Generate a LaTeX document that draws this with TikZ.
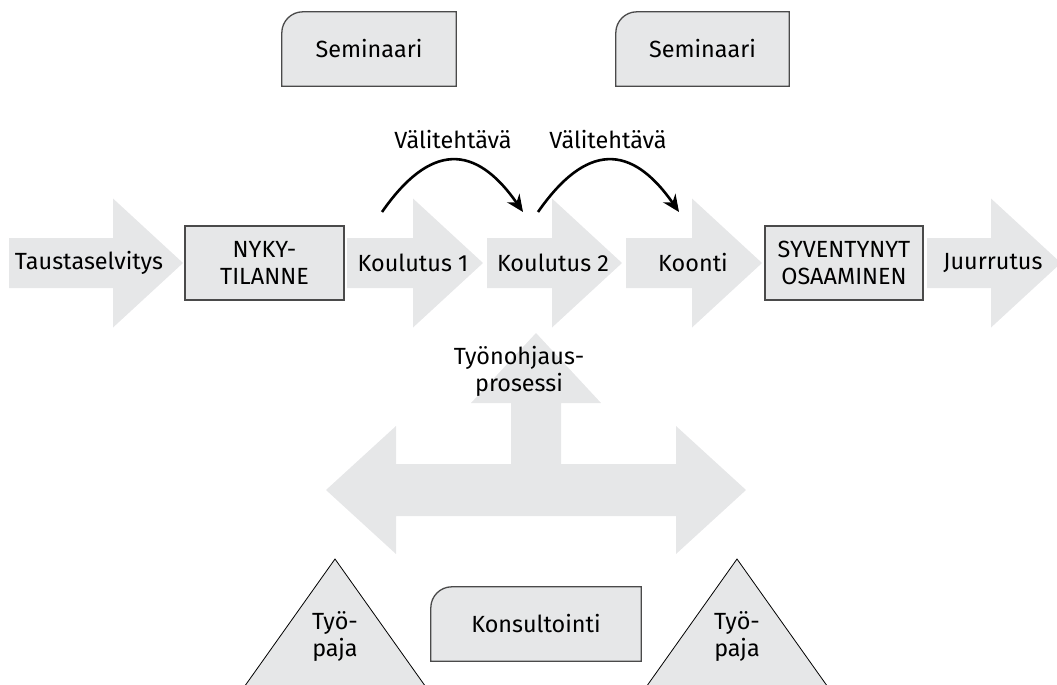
\documentclass[tikz,border=0pt]{standalone}
\usepackage{fontspec}
\setmainfont{Fira Sans}
\usetikzlibrary{arrows.meta,backgrounds}
\definecolor{pale}{HTML}{E6E7E8}
\definecolor{edge}{HTML}{4A4A4A}

% wide grey arrow: start x, tip x, middle y
\newcommand{\fatarrow}[3]{%
  \fill[pale] (#1,#3-25) -- (#2-70,#3-25) -- (#2-70,#3-64.5) -- (#2,#3)
    -- (#2-70,#3+64.5) -- (#2-70,#3+25) -- (#1,#3+25) -- cycle;}
% frame with one round corner round a named node
\newcommand{\tabframe}[1]{%
  \begin{scope}[on background layer]
    \draw[draw=edge,line width=1.3pt,fill=pale] (#1.south east) -- (#1.south west)
      -- ([yshift=-21pt]#1.north west) arc[start angle=180,end angle=90,radius=21pt]
      -- (#1.north east) -- cycle;
  \end{scope}}

\begin{document}
\begin{tikzpicture}[x=1pt,y=-1pt,font=\fontsize{23.4}{27}\selectfont,
  box/.style={draw=edge,line width=1.3pt,fill=pale,minimum height=74pt,align=center,inner sep=0pt},
  tab/.style={minimum height=74pt,inner sep=0pt},
  tri/.style={draw=black,line width=0.8pt,fill=pale},
  arr/.style={-{Stealth[length=17pt,width=15pt]},line width=2.6pt},
  lbl/.style={align=center,inner sep=0pt}]
\useasboundingbox (0,0) rectangle (1057,685);
\clip (0,0) rectangle (1057,685);

% main row
\fatarrow{9}{183}{263}
\fatarrow{347}{483}{263}
\fatarrow{487}{622}{263}
\fatarrow{626}{762}{263}
\fatarrow{927}{1061}{263}

\node (taus) at (89,263) {Taustaselvitys};
\node[box,minimum width=159pt] (nyky) at (264.5,263) {NYKY-\\TILANNE};
\node (kou1) at (413,263) {Koulutus 1};
\node (kou2) at (553,263) {Koulutus 2};
\node (koon) at (693,263) {Koonti};
\node[box,minimum width=158pt] (syv) at (844,263) {SYVENTYNYT\\OSAAMINEN};
\node (juur) at (993,263) {Juurrutus};

% seminars
\node[tab,minimum width=174pt] (sem1) at (369,49) {Seminaari};
\node[tab,minimum width=173pt] (sem2) at (702.5,49) {Seminaari};
\tabframe{sem1}
\tabframe{sem2}

% tasks between trainings
\node (vt1) at (453,140) {Välitehtävä};
\node (vt2) at (608,140) {Välitehtävä};
\coordinate (v1a) at (382,212);
\coordinate (v1b) at (523,212);
\coordinate (v2a) at (538,212);
\coordinate (v2b) at (679,212);
\draw[arr] (v1a) .. controls +(48,-69) and +(-48,-69) .. (v1b);
\draw[arr] (v2a) .. controls +(48,-69) and +(-48,-69) .. (v2b);

% supervision
\fill[pale] (326,490) -- (396,426) -- (396,464) -- (511,464) -- (511,403)
  -- (471,403) -- (536,333) -- (601,403) -- (561,403) -- (561,464)
  -- (676,464) -- (676,426) -- (746,490) -- (676,554) -- (676,516)
  -- (396,516) -- (396,554) -- cycle;
\node[lbl] (tyon) at (519,371) {Työnohjaus-\\prosessi};

% bottom
\draw[tri] (335,559) -- (242,690) -- (428,690) -- cycle;
\draw[tri] (737,559) -- (644,690) -- (830,690) -- cycle;
\node[lbl] (paja1) at (335,636) {Työ-\\paja};
\node[lbl] (paja2) at (737,636) {Työ-\\paja};
\node[tab,minimum width=210pt] (kons) at (536,624) {Konsultointi};
\tabframe{kons}
\end{tikzpicture}
\end{document}
